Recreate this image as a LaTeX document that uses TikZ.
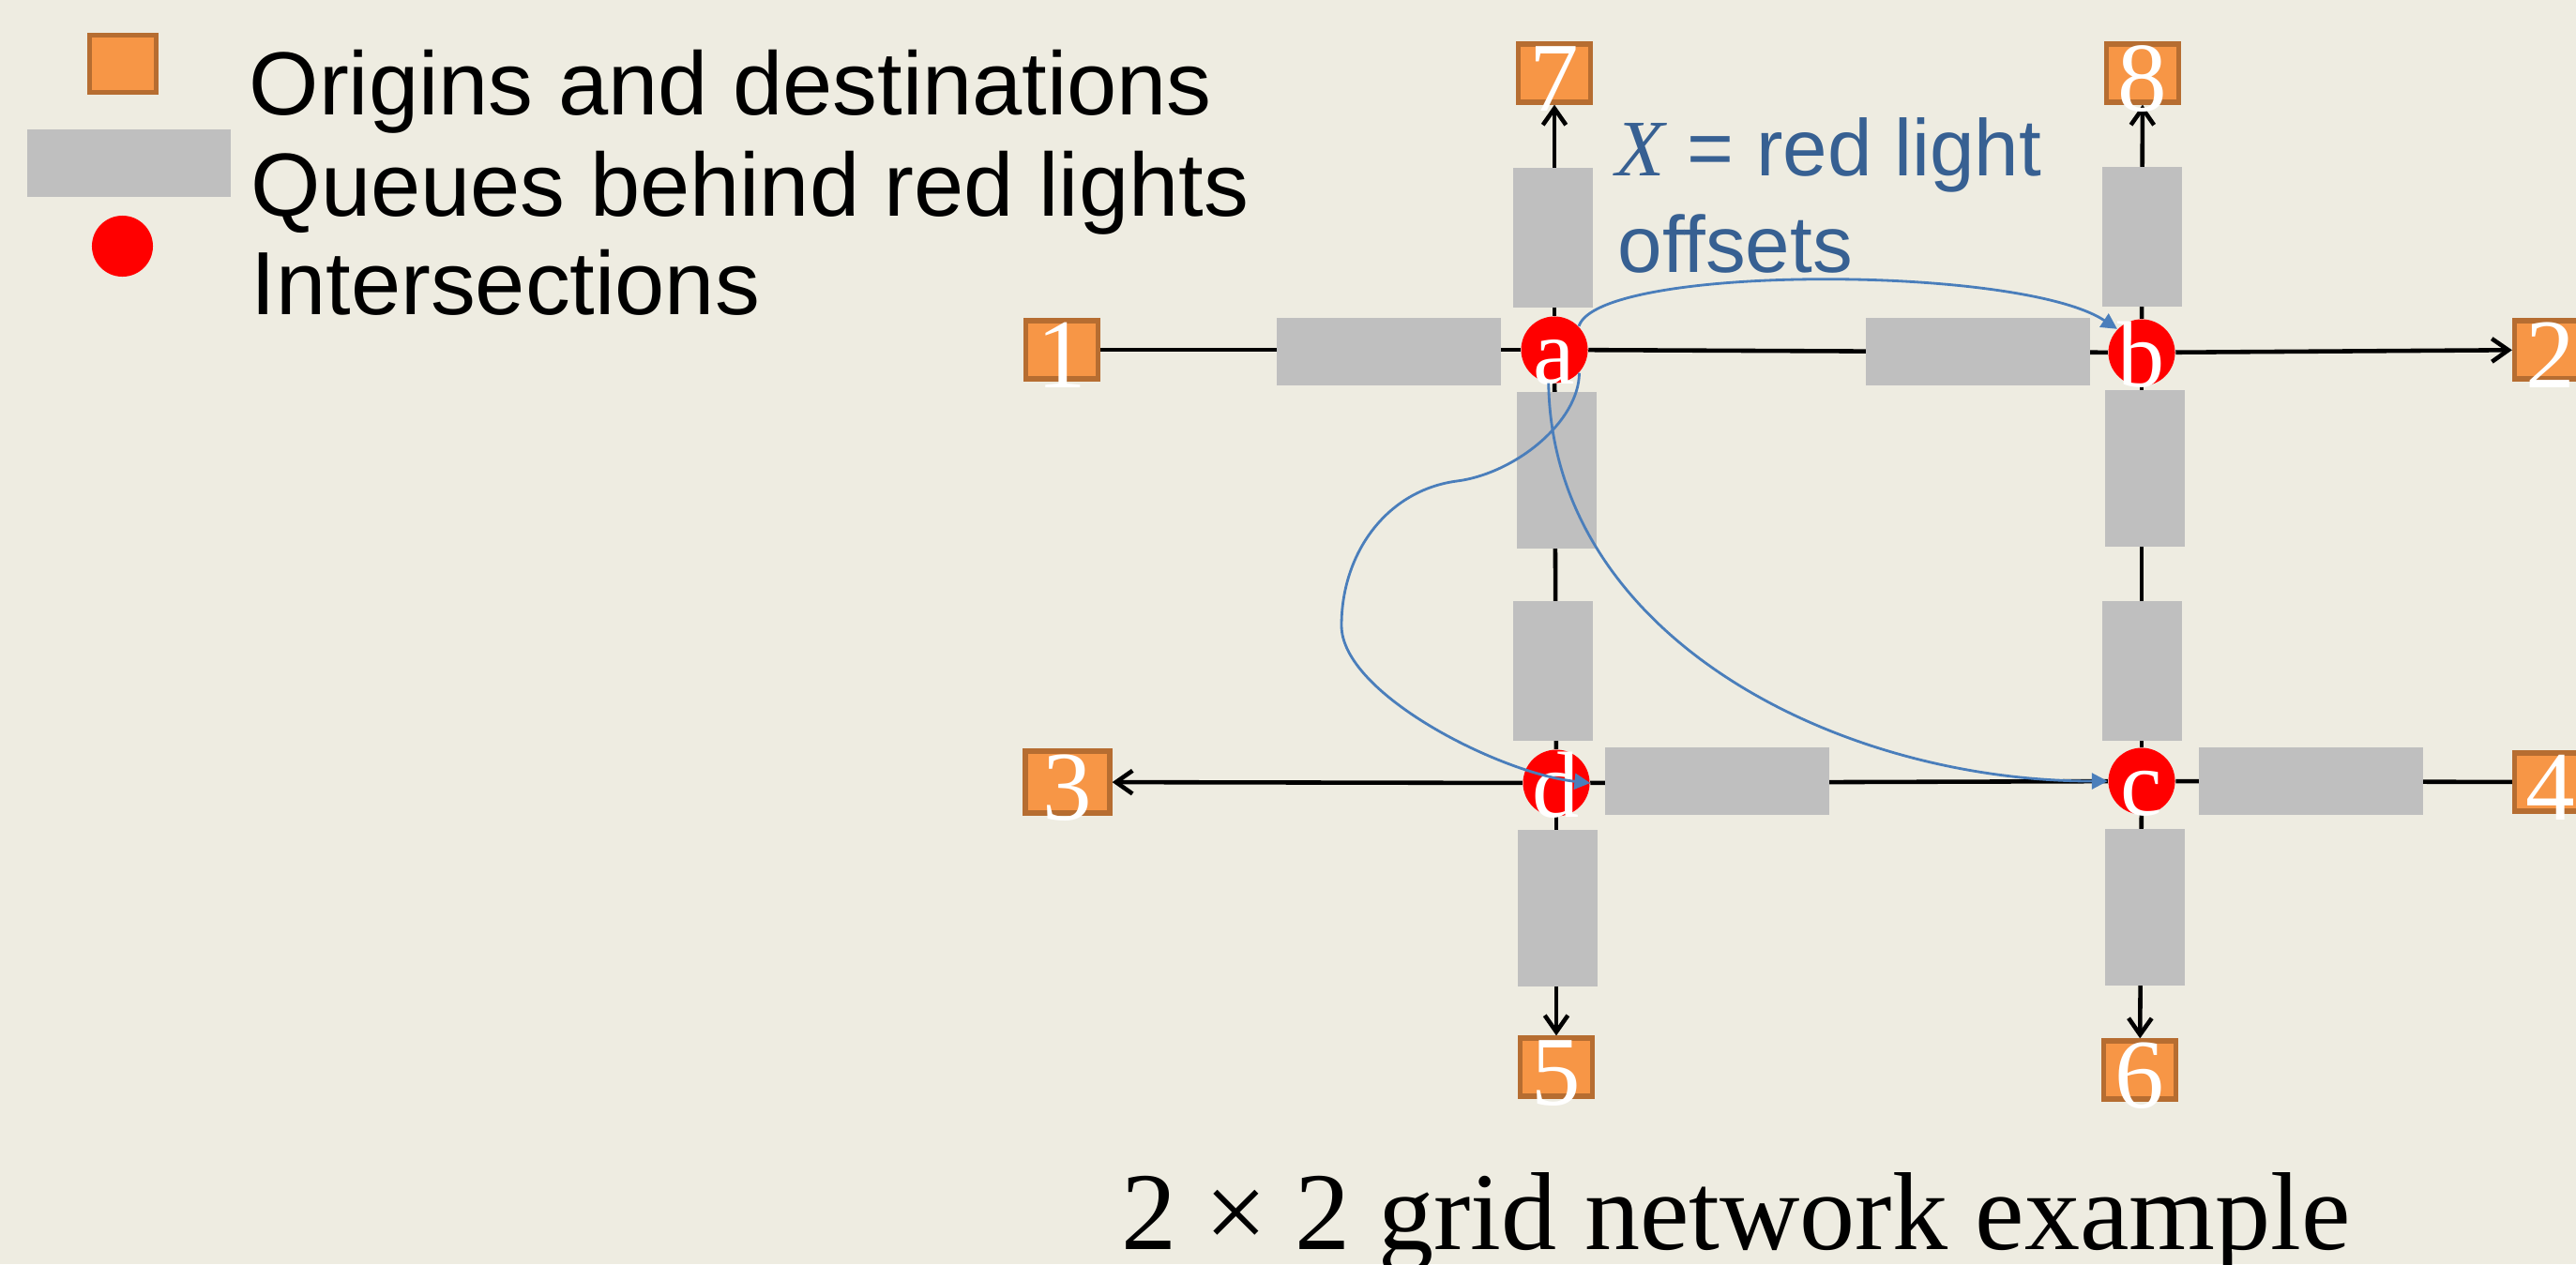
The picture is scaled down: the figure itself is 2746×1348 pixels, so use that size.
\documentclass[tikz,border=0pt]{standalone}
\usepackage{fontspec}
\setmainfont{Liberation Serif}
\newfontfamily\arialfont{Liberation Sans}
\usetikzlibrary{arrows.meta}

\definecolor{paper}{HTML}{EEECE1}
\definecolor{odfill}{HTML}{F79646}
\definecolor{oddraw}{HTML}{B66D31}
\definecolor{queuegray}{HTML}{BFBFBF}
\definecolor{offsetblue}{HTML}{4A7EBB}
\definecolor{noteblue}{HTML}{376092}

\pgfdeclarelayer{paperlayer}
\pgfdeclarelayer{roads}
\pgfsetlayers{paperlayer,roads,main}

% labels hang below the centre of their shapes
\newcommand\odnum[1]{\raisebox{-0.40cm}[0pt][0pt]{#1}}
\newcommand\jlet[1]{\raisebox{-0.36cm}[0pt][0pt]{#1}}

\tikzset{
  od/.style={draw=oddraw, fill=odfill, line width=1.5pt, minimum width=0.77cm,
    minimum height=0.62cm, inner sep=0pt, text=white,
    font=\fontsize{29.9pt}{30pt}\selectfont},
  junction/.style={circle, fill=red, minimum size=0.71cm, inner sep=0pt,
    text=white, font=\fontsize{28.5pt}{29pt}\selectfont},
  hq/.style={fill=queuegray, minimum width=2.39cm, minimum height=0.72cm, inner sep=0pt},
  vq/.style={fill=queuegray, minimum width=0.85cm, minimum height=1.49cm, inner sep=0pt},
  vqlong/.style={vq, minimum height=1.67cm},
  road/.style={line width=1.3pt, black},
  exitroad/.style={road, -{Straight Barb[length=5pt,width=7pt]}},
  offsetcurve/.style={offsetblue, line width=0.8pt, -{Triangle[length=4.8pt,width=4.8pt]}},
  legendtext/.style={font=\arialfont\fontsize{27.2pt}{30pt}\selectfont,
    anchor=base west, inner sep=0pt},
  notetext/.style={text=noteblue, font=\arialfont\fontsize{24.3pt}{26pt}\selectfont,
    anchor=base west, inner sep=0pt},
}

\begin{document}
\begin{tikzpicture}[x=0.01cm, y=-0.01cm]
\useasboundingbox (0,0) rectangle (2746,1348);
\begin{pgfonlayer}{paperlayer}
  \fill[paper] (0,0) rectangle (2746,1348);
\end{pgfonlayer}
\clip (0,0) rectangle (2746,1348);

% legend
\node[od, minimum width=0.71cm, minimum height=0.61cm] (keyod) at (131,68) {};
\node[fill=queuegray, minimum width=2.17cm, minimum height=0.72cm, inner sep=0pt] (keyq) at (137.5,174) {};
\node[circle, fill=red, minimum size=0.65cm, inner sep=0pt] (keyj) at (130.5,262.5) {};
\node[legendtext] (keyodtxt) at (265,122) {Origins and destinations};
\node[legendtext] (keyqtxt) at (267,230) {Queues behind red lights};
\node[legendtext] (keyjtxt) at (267,335) {Intersections};

% origins and destinations
\node[od] (n1) at (1132,373) {\odnum{1}};
\node[od] (n2) at (2719,373) {\odnum{2}};
\node[od, minimum width=0.90cm, minimum height=0.66cm] (n3) at (1138,834) {\odnum{3}};
\node[od] (n4) at (2719,834) {\odnum{4}};
\node[od] (n5) at (1659,1138) {\odnum{5}};
\node[od] (n6) at (2281,1141) {\odnum{6}};
\node[od] (n7) at (1657,78) {\odnum{7}};
\node[od] (n8) at (2284,78) {\odnum{8}};

% intersections
\node[junction] (a) at (1657,373) {\jlet{a}};
\node[junction] (b) at (2283,376) {\jlet{b}};
\node[junction] (c) at (2283,833) {\jlet{c}};
\node[junction] (d) at (1659,835) {\jlet{d}};

% roads
\begin{pgfonlayer}{roads}
  \draw[road] (n1) -- (a);
  \draw[road] (a) -- (b);
  \draw[exitroad] (b) -- (n2);
  \draw[exitroad] (a) -- (n7);
  \draw[exitroad] (b) -- (n8);
  \draw[road] (a) -- (d);
  \draw[road] (b) -- (c);
  \draw[road] (d) -- (c);
  \draw[road] (n4) -- (c);
  \draw[exitroad] (d) -- (n3);
  \draw[exitroad] (d) -- (n5);
  \draw[exitroad] (c) -- (n6);
\end{pgfonlayer}

% queues behind red lights
\node[hq] (qaw) at (1480.5,375) {};
\node[vq] (qan) at (1655.5,253.5) {};
\node[vqlong] (qas) at (1659.5,501.5) {};
\node[vq] (qdn) at (1655.5,715.5) {};
\node[vqlong] (qds) at (1660.5,968.5) {};
\node[hq] (qde) at (1830.5,833) {};
\node[hq] (qbw) at (2108.5,375) {};
\node[vq] (qbn) at (2283.5,252.5) {};
\node[vqlong] (qbs) at (2286,499.5) {};
\node[vq] (qcn) at (2283.5,715.5) {};
\node[vqlong] (qcs) at (2286.5,967.5) {};
\node[hq] (qce) at (2463.5,833) {};

% red light offsets
\draw[offsetcurve] (a.44) .. controls (1704,282) and (2153,282) .. (b.136);
\draw[offsetcurve] (a.-43) .. controls (1683,450) and (1615,505) .. (1553,513)
  .. controls (1478,523) and (1430,590) .. (1430,667)
  .. controls (1430,740) and (1600,825) .. (d.east);
\draw[offsetcurve] (a.260) .. controls (1655,680) and (1960,833) .. (c.west);

\node[notetext] (note1) at (1722,187) {{\rmfamily\itshape X} = red light};
\node[notetext] (note2) at (1724,290) {offsets};

% caption
\node[font=\fontsize{33.6pt}{34pt}\selectfont, anchor=base, inner sep=0pt] (caption)
  at (1851,1332) {2 × 2 grid network example};
\end{tikzpicture}
\end{document}
